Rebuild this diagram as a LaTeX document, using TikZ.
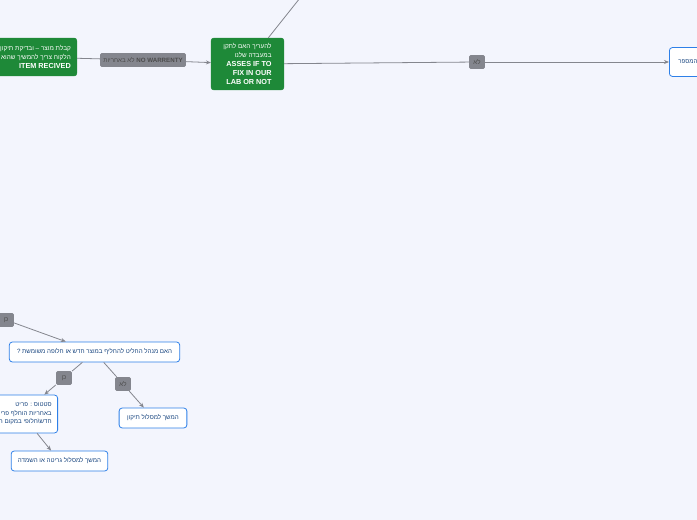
\documentclass[tikz,border=0pt]{standalone}
\usepackage{fontspec}
\setmainfont{Liberation Sans}
\newfontfamily\hebfont[Script=Hebrew]{Liberation Sans}
\TeXXeTstate=1
\usepackage{xcolor}
\usetikzlibrary{
  arrows.meta,
  positioning
}
\definecolor{mapbg}{RGB}{243,245,253}
\definecolor{mapgreen}{RGB}{30,137,56}
\definecolor{mapblue}{RGB}{46,128,232}
\definecolor{mapgrey}{RGB}{132,134,142}
\newcommand{\heb}[1]{{\hebfont\beginR #1\endR}}
\newcommand{\engb}[1]{\textbf{\fontsize{7.3}{9}\selectfont #1}}

\tikzset{
  greenbox/.style={draw=mapgreen, fill=mapgreen, text=white, rounded corners=2.5pt,
    align=right, inner sep=4pt, font=\fontsize{6.4}{9}\selectfont},
  bluebox/.style={draw=mapblue, fill=white, text=mapblue!55!black, rounded corners=3pt,
    line width=0.8pt, align=right, inner xsep=6pt, inner ysep=3pt, minimum height=20,
    font=\fontsize{6.2}{9.5}\selectfont},
  edgelab/.style={fill=mapgrey, text=black!70, rounded corners=1.5pt, inner sep=2pt,
    minimum height=14, minimum width=16, font=\fontsize{6.2}{7}\selectfont},
  conn/.style={draw=mapgrey, line width=0.8pt},
  arr/.style={conn, -{Stealth[length=5pt, width=4pt]}}
}

\begin{document}
\begin{tikzpicture}[x=1bp, y=-1bp]
\fill[mapbg] (0,0) rectangle (697,520);
\useasboundingbox (0,0) rectangle (697,520);
\clip (0,0) rectangle (697,520);

% top row
\node[greenbox, anchor=east, minimum height=38, inner xsep=6pt] (item) at (77,57)
  {\heb{קבלת מוצר – ובדיקת תיקון}\\ \heb{הלקוח צריך להמשיך שהוא מגיע}\\ \engb{ITEM RECIVED}};
\node[edgelab, minimum width=86] (nowar) at (143,60)
  {\beginR{\hebfont לא באחריות}\endR{} \textbf{NO WARRENTY}};
\node[greenbox, minimum width=73, minimum height=52, inner xsep=6pt] (asses) at (247.5,64)
  {\heb{להעריך האם לתקן}\\ \heb{במעבדה שלנו}\\ \engb{ASSES IF TO}\\
   \engb{FIX IN OUR}\\ \engb{LAB OR NOT}};
\node[edgelab] (nofix) at (477,62) {\heb{לא}};
\node[bluebox, anchor=west, minimum height=29, inner xsep=9pt] (outlab) at (669,62)
  {\heb{לשלוח לתיקון חיצוני ולעדכן המספר}};
\coordinate (uptail) at (300,-2);

\draw[conn] (item) -- (nowar);
\draw[arr] (nowar) -- (asses);
\draw[conn] (asses) -- (nofix);
\draw[arr] (nofix) -- (outlab);
\draw[conn] (uptail) -- (asses);

% bottom branch
\node[edgelab] (yesin) at (6,320) {\heb{כן}};
\node[bluebox, minimum width=171] (replace) at (94.5,352)
  {\heb{האם מנהל החליט להחליף במוצר חדש או חלופה משומשת ?}};
\node[edgelab] (yesrep) at (64,378) {\heb{כן}};
\node[edgelab] (norep) at (123,384) {\heb{לא}};
\node[bluebox, anchor=east, minimum height=38, inner xsep=6pt, inner ysep=2pt,
      font=\fontsize{6.2}{8.6}\selectfont] (status) at (58,414)
  {\heb{סטטוס : פריט}\\ \heb{באחריות הוחלף פריט}\\ \heb{חדש\textbackslash חלופי במקום הישן}};
\node[bluebox, minimum width=68] (fixpath) at (153,418) {\heb{המשך למסלול תיקון}};
\node[bluebox, minimum width=97] (scrap) at (59.5,461) {\heb{המשך למסלול גריטה או השמדה}};

\draw[arr] (yesin) -- (replace);
\draw[conn] (replace) -- (yesrep);
\draw[arr] (yesrep) -- (status);
\draw[conn] (replace) -- (norep);
\draw[arr] (norep) -- (fixpath);
\draw[arr] (status) -- (scrap);
\end{tikzpicture}
\end{document}
